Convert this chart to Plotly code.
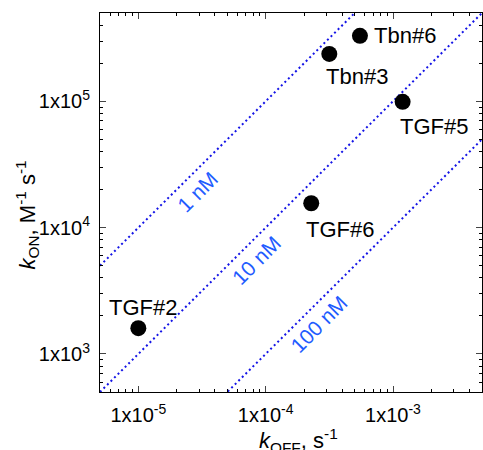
import numpy as np
import plotly.graph_objects as go

# ---- data ----
names = ["TGF#2", "TGF#6", "TGF#5", "Tbn#3", "Tbn#6"]
koff = [1.0e-5, 2.28e-4, 1.19e-3, 3.16e-4, 5.5e-4]
kon = [1.6e3, 1.56e4, 9.9e4, 2.37e5, 3.3e5]
# label offsets (px): xanchor, xshift, yshift
lab_anchor = ["center", "left", "left", "left", "left"]
lab_dx = [5, -7, -5, -5, 12]
lab_dy = [21, -26, -25, -23, 0]

kd_nM = [1, 10, 100]
kd_labels = ["1 nM", "10 nM", "100 nM"]
kd_label_koff = [2.94e-5, 8.4e-5, 2.6e-4]

x_range = [5e-6, 5e-3]
y_range = [5e2, 5e5]
x_ticks = [1e-5, 1e-4, 1e-3]
x_ticktext = ["1x10<sup>-5</sup>", "1x10<sup>-4</sup>", "1x10<sup>-3</sup>"]
y_ticks = [1e3, 1e4, 1e5]
y_ticktext = ["1x10<sup>3</sup>", "1x10<sup>4</sup>", "1x10<sup>5</sup>"]
x_title = "<i>k</i><sub>OFF</sub>, s<sup>-1</sup>"
y_title = "<i>k</i><sub>ON</sub>, M<sup>-1</sup> s<sup>-1</sup>"

FONT = "Liberation Sans, Arial, Helvetica, sans-serif"
LINE_C = "#1414e6"
LAB_C = "#1f5cff"

fig = go.Figure()

xs = np.array(x_range)
for kd in kd_nM:
    fig.add_trace(go.Scatter(
        x=xs, y=xs / (kd * 1e-9), mode="lines",
        line=dict(color=LINE_C, width=2, dash="2px,3px"),
        hoverinfo="skip", showlegend=False))

fig.add_trace(go.Scatter(
    x=koff, y=kon, mode="markers",
    marker=dict(size=16, color="black"),
    showlegend=False))

ann = []
for n, x, y, a, dx, dy in zip(names, koff, kon, lab_anchor, lab_dx, lab_dy):
    ann.append(dict(x=np.log10(x), y=np.log10(y), text=n, showarrow=False,
                    xanchor=a, yanchor="middle", xshift=dx, yshift=dy,
                    font=dict(family=FONT, size=22, color="black")))
for kd, t, kx in zip(kd_nM, kd_labels, kd_label_koff):
    ky = kx / (kd * 1e-9)
    ann.append(dict(x=np.log10(kx), y=np.log10(ky), text=t, showarrow=False,
                    textangle=-45, xanchor="center", yanchor="middle",
                    yshift=-23,
                    font=dict(family=FONT, size=21, color=LAB_C)))
# axis titles
ann.append(dict(xref="paper", yref="paper", x=0.5, y=0, text=x_title,
                showarrow=False, xanchor="center", yanchor="middle",
                xshift=7, yshift=-48,
                font=dict(family=FONT, size=22, color="black")))
ann.append(dict(xref="paper", yref="paper", x=0, y=0.5, text=y_title,
                showarrow=False, textangle=-90, xanchor="center",
                yanchor="middle", xshift=-73, yshift=-13,
                font=dict(family=FONT, size=22, color="black")))


def minor_vals(lo, hi):
    out = []
    for e in range(int(np.floor(np.log10(lo))), int(np.ceil(np.log10(hi))) + 1):
        for m in range(2, 10):
            v = m * 10.0 ** e
            if lo <= v <= hi:
                out.append(v)
    return out


axis_common = dict(
    type="log", showgrid=False, zeroline=False,
    showline=True, linecolor="black", linewidth=1, mirror="allticks",
    ticks="inside", ticklen=6, tickwidth=1, tickcolor="#444",
    tickfont=dict(family=FONT, size=20, color="black"),
    automargin=False,
)

fig.update_xaxes(
    **axis_common,
    range=[np.log10(x_range[0]), np.log10(x_range[1])],
    tickmode="array", tickvals=x_ticks, ticktext=x_ticktext,
    ticklabelstandoff=5,
    minor=dict(ticks="inside", ticklen=3, tickcolor="black",
               tickvals=minor_vals(*x_range), showgrid=False),
)
fig.update_yaxes(
    **axis_common,
    range=[np.log10(y_range[0]), np.log10(y_range[1])],
    tickmode="array", tickvals=y_ticks, ticktext=y_ticktext,
    ticklabelstandoff=5,
    minor=dict(ticks="inside", ticklen=3, tickcolor="black",
               tickvals=minor_vals(*y_range), showgrid=False),
)

fig.update_layout(
    width=483, height=450,
    margin=dict(l=100, r=1, t=13, b=58),
    paper_bgcolor="white", plot_bgcolor="white",
    template="none",
    annotations=ann,
    font=dict(family=FONT),
)

# remove the default page margin so the figure sits at the window origin
fig.write_html(
    "out.html",
    config={"displayModeBar": False},
    post_script="document.body.style.margin='0';"
                "document.body.style.overflow='hidden';",
)
